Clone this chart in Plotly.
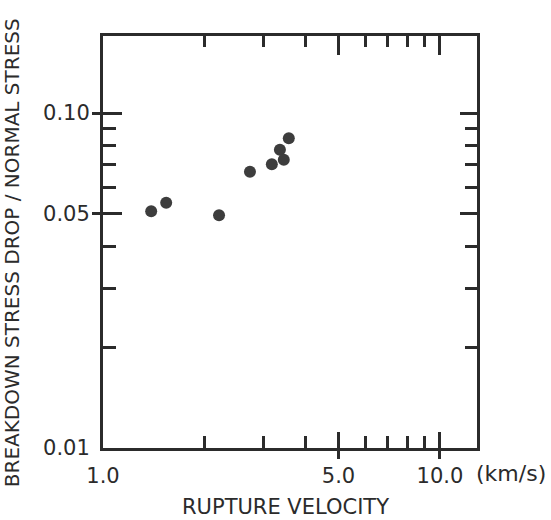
import numpy as np
import plotly.graph_objects as go

# Rupture velocity (km/s) and breakdown stress drop / normal stress
rupture_velocity = [1.39, 1.54, 2.21, 2.73, 3.17, 3.35, 3.44, 3.56]
stress_ratio = [0.0509, 0.0540, 0.0495, 0.0668, 0.0703, 0.0777, 0.0725, 0.0841]

x_label_vals = [1, 5, 10]
x_label_text = ["1.0", "5.0", "10.0"]
x_major = [5, 10]
x_minor = [2, 3, 4, 6, 7, 8, 9]

y_label_vals = [0.01, 0.05, 0.10]
y_label_text = ["0.01", "0.05", "0.10"]
y_major = [0.05, 0.10]
y_minor = [0.02, 0.03, 0.04, 0.06, 0.07, 0.08, 0.09]

INK = "#2b2b2b"
FONT = "DejaVu Sans"
LW = 3

x_range = [0, 1.11]
y_range = [-2, -0.77]

fig = go.Figure()
fig.add_trace(go.Scatter(
    x=rupture_velocity, y=stress_ratio, mode="markers",
    marker=dict(size=12, color="#3d3d3d", line=dict(width=0)),
    showlegend=False, hoverinfo="x+y",
))
# empty traces so the overlaid tick axes get drawn
for k in (2, 3, 4):
    fig.add_trace(go.Scatter(x=[], y=[], xaxis=f"x{k}", yaxis=f"y{k}",
                             showlegend=False, hoverinfo="skip"))

base_x = dict(type="log", range=x_range, showgrid=False, zeroline=False)
base_y = dict(type="log", range=y_range, showgrid=False, zeroline=False)
minor_x = dict(tickmode="array", tickvals=x_minor, ticks="inside",
               tickwidth=LW, tickcolor=INK, showgrid=False)
minor_y = dict(tickmode="array", tickvals=y_minor, ticks="inside",
               tickwidth=LW, tickcolor=INK, showgrid=False)

fig.update_layout(
    width=551, height=520,
    margin=dict(l=103, r=74, t=36, b=72),
    paper_bgcolor="white", plot_bgcolor="white",
    font=dict(family=FONT, color=INK),
    # bottom axis: line + labels
    xaxis=dict(**base_x, showline=True, linewidth=LW, linecolor=INK,
               tickmode="array", tickvals=x_label_vals, ticktext=x_label_text,
               ticks="", ticklabelstandoff=7,
               tickfont=dict(size=21, color=INK, family=FONT)),
    # bottom axis: major ticks reaching outside
    xaxis2=dict(**base_x, overlaying="x", side="bottom", anchor="y2",
                tickmode="array", tickvals=x_major,
                ticks="outside", ticklen=10, tickwidth=LW, tickcolor=INK,
                showticklabels=False),
    # bottom axis: inside ticks
    xaxis3=dict(**base_x, overlaying="x", side="bottom", anchor="y3",
                tickmode="array", tickvals=x_major,
                ticks="inside", ticklen=16, tickwidth=LW, tickcolor=INK,
                showticklabels=False, minor=dict(**minor_x, ticklen=12)),
    # top axis
    xaxis4=dict(**base_x, overlaying="x", side="top", anchor="y4",
                showline=True, linewidth=LW, linecolor=INK,
                tickmode="array", tickvals=x_major,
                ticks="inside", ticklen=19, tickwidth=LW, tickcolor=INK,
                showticklabels=False, minor=dict(**minor_x, ticklen=11)),
    # left axis: line + labels
    yaxis=dict(**base_y, showline=True, linewidth=LW, linecolor=INK,
               tickmode="array", tickvals=y_label_vals, ticktext=y_label_text,
               ticks="", ticklabelstandoff=6,
               tickfont=dict(size=21, color=INK, family=FONT)),
    # left axis: major ticks reaching outside
    yaxis2=dict(**base_y, overlaying="y", side="left", anchor="x2",
                tickmode="array", tickvals=y_major,
                ticks="outside", ticklen=10, tickwidth=LW, tickcolor=INK,
                showticklabels=False),
    # left axis: inside ticks
    yaxis3=dict(**base_y, overlaying="y", side="left", anchor="x3",
                tickmode="array", tickvals=y_major,
                ticks="inside", ticklen=19, tickwidth=LW, tickcolor=INK,
                showticklabels=False, minor=dict(**minor_y, ticklen=13)),
    # right axis
    yaxis4=dict(**base_y, overlaying="y", side="right", anchor="x4",
                showline=True, linewidth=LW, linecolor=INK,
                tickmode="array", tickvals=y_major,
                ticks="inside", ticklen=17, tickwidth=LW, tickcolor=INK,
                showticklabels=False, minor=dict(**minor_y, ticklen=12)),
)

fig.add_annotation(text="RUPTURE VELOCITY", xref="paper", yref="paper",
                   x=0.487, y=-0.143, xanchor="center", yanchor="middle",
                   showarrow=False, font=dict(size=21, color=INK, family=FONT))
fig.add_annotation(text="(km/s)", xref="paper", yref="paper",
                   x=1.091, y=-0.063, xanchor="center", yanchor="middle",
                   showarrow=False, font=dict(size=22, color=INK, family=FONT))
fig.add_annotation(text="BREAKDOWN STRESS DROP / NORMAL STRESS",
                   xref="paper", yref="paper", x=-0.243, y=0.473,
                   xanchor="center", yanchor="middle", textangle=-90,
                   showarrow=False, font=dict(size=20, color=INK, family=FONT))

fig.write_html("out.html")
